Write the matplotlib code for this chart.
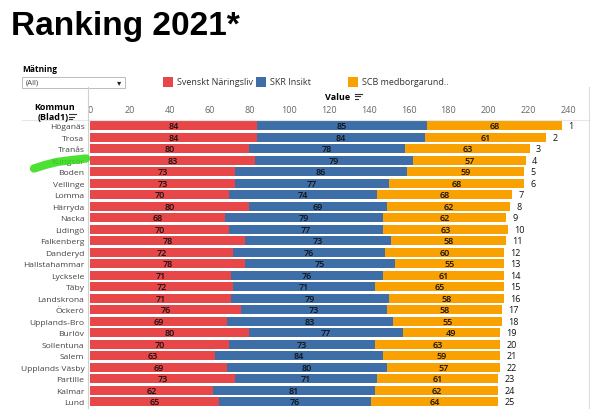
import numpy as np
import matplotlib
matplotlib.use("Agg")
import matplotlib.pyplot as plt
from matplotlib.patches import Rectangle
from matplotlib.lines import Line2D

kommuner = ["Höganäs", "Trosa", "Tranås", "Kungsör", "Boden", "Vellinge", "Lomma",
            "Härryda", "Nacka", "Lidingö", "Falkenberg", "Danderyd", "Hallstahammar",
            "Lycksele", "Täby", "Landskrona", "Öckerö", "Upplands-Bro", "Burlöv",
            "Sollentuna", "Salem", "Upplands Väsby", "Partille", "Kalmar", "Lund"]
naringsliv = [84, 84, 80, 83, 73, 73, 70, 80, 68, 70, 78, 72, 78,
              71, 72, 71, 76, 69, 80, 70, 63, 69, 73, 62, 65]
skr = [85, 84, 78, 79, 86, 77, 74, 69, 79, 77, 73, 76, 75,
       76, 71, 79, 73, 83, 77, 73, 84, 80, 71, 81, 76]
scb = [68, 61, 63, 57, 59, 68, 68, 62, 62, 63, 58, 60, 55,
       61, 65, 58, 58, 55, 49, 63, 59, 57, 61, 62, 64]
series_names = ["Svenskt Näringsliv", "SKR Insikt", "SCB medborgarund.."]
colors = ["#e8474a", "#3e6ea8", "#f9a100"]

W, H = 609, 410
fig = plt.figure(figsize=(W / 100, H / 100), dpi=100)
plt.rcParams['font.family'] = ['Open Sans', 'DejaVu Sans']


def fx(x):
    return x / W


def fy(y):
    return 1 - y / H


# plot area in pixels
left, right, top, bottom = 90, 589, 121, 410
ax = fig.add_axes([fx(left), fy(bottom), fx(right - left), (bottom - top) / H])

y = np.arange(len(kommuner))
series = [np.array(naringsliv), np.array(skr), np.array(scb)]
start = np.zeros(len(kommuner))
for vals, col in zip(series, colors):
    ax.barh(y, vals, left=start, height=0.78, color=col, edgecolor="none")
    for yi, (s, v) in enumerate(zip(start, vals)):
        ax.text(s + v / 2, yi, str(v), ha="center", va="center",
                fontsize=6.5, color="#111111", fontweight="semibold")
    start = start + vals
for yi, tot in enumerate(start):
    ax.text(tot + 3, yi, str(yi + 1), ha="left", va="center",
            fontsize=6.5, color="#111111")

ax.set_xlim(0, 240 * (right - left) / 478)
ax.set_ylim(24.61, -0.52)
ax.xaxis.tick_top()
ax.set_xticks(np.arange(0, 241, 20))
ax.tick_params(axis="x", length=0, labelsize=6.5, labelcolor="#666666", pad=4)
ax.set_yticks(y)
ax.set_yticklabels(kommuner)
ax.tick_params(axis="y", length=0, labelsize=6.1, labelcolor="#444444", pad=4)
for sp in ["bottom", "left"]:
    ax.spines[sp].set_visible(False)
ax.spines["top"].set_color("#e6e6e6")
ax.spines["right"].set_color("#dddddd")

# frame lines outside plot
fig.add_artist(Line2D([fx(22), fx(90)], [fy(121), fy(121)], color="#e6e6e6", lw=0.8))
fig.add_artist(Line2D([fx(88), fx(88)], [fy(88), fy(410)], color="#d0d0d0", lw=0.8))
fig.add_artist(Line2D([fx(589), fx(589)], [fy(88), fy(121)], color="#dddddd", lw=0.8))

# title
fig.text(fx(11), fy(27), "Ranking 2021*", fontsize=24, fontweight="bold",
         family="Liberation Sans", va="center", ha="left")

# filter
fig.text(fx(22), fy(70), "Mätning", fontsize=6, fontweight="bold", va="center")
fig.add_artist(Rectangle((fx(22), fy(89)), fx(103), 11 / H, transform=fig.transFigure,
                         facecolor="white", edgecolor="#bbbbbb", lw=0.7))
fig.text(fx(26), fy(83.5), "(All)", fontsize=5.5, color="#444444", va="center")
fig.text(fx(119), fy(83.5), "▾", fontsize=6, color="#222222", va="center", ha="center")

# legend
leg_x = [163, 256, 348]
for lx, name, col in zip(leg_x, series_names, colors):
    fig.add_artist(Rectangle((fx(lx), fy(88)), fx(10), 10 / H, transform=fig.transFigure,
                             facecolor=col, edgecolor="none"))
    fig.text(fx(lx + 14), fy(83), name, fontsize=6.5, color="#333333", va="center")

# header labels
fig.text(fx(55), fy(108), "Kommun", fontsize=6.5, fontweight="bold", ha="center", va="center")
fig.text(fx(53), fy(118), "(Blad1)", fontsize=6.5, fontweight="bold", ha="center", va="center")
fig.text(fx(338), fy(97), "Value", fontsize=6.5, fontweight="bold", ha="center", va="center")


def sort_icon(x, y):
    for i, ln in enumerate([7, 5, 3]):
        fig.add_artist(Line2D([fx(x), fx(x + ln)], [fy(y + i * 2.5), fy(y + i * 2.5)],
                              color="#333333", lw=0.8))


sort_icon(69, 115)
sort_icon(355, 94.5)

# green highlighter stroke
gx = [34, 45, 57, 72, 86]
gy = [169.5, 166, 163, 161, 159.5]
fig.add_artist(Line2D([fx(v) for v in gx], [fy(v) for v in gy], color="#2fdc12",
                      lw=6, alpha=0.85, solid_capstyle="round"))

fig.savefig("out.png", dpi=100)
